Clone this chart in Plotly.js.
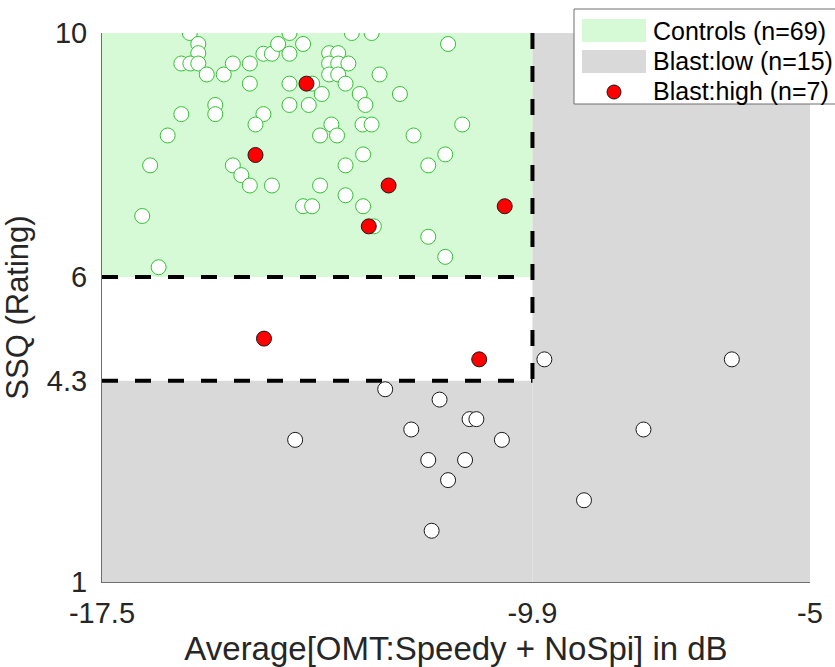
<!DOCTYPE html>
<html>
<head>
<meta charset="utf-8">
<script src="https://cdn.plot.ly/plotly-3.0.1.min.js"></script>
<style>
html, body { margin: 0; padding: 0; background: #fff; }
#chart { width: 835px; height: 667px; }
</style>
</head>
<body>
<div id="chart"></div>
<script>
// ---- data ----
const controlsX = [-15.95, -15.80, -15.80, -16.10, -15.94, -15.80, -15.65, -15.35, -15.19, -14.89,
  -14.89, -14.65, -14.50, -14.39, -14.19, -14.19, -13.95, -14.19, -13.79, -14.19,
  -13.85, -13.62, -15.50, -15.50, -16.10, -14.65, -14.79, -16.34, -13.09, -12.74,
  -11.39, -13.49, -13.33, -13.49, -13.33, -13.15, -13.49, -13.33, -13.20, -12.60,
  -12.95, -12.85, -12.24, -13.45, -13.65, -13.35, -12.90, -12.74, -12.00, -11.14,
  -12.89, -11.44, -16.65, -15.19, -15.04, -14.89, -14.50, -13.95, -13.79, -16.79,
  -16.50, -13.20, -11.74, -13.65, -13.20, -12.89, -12.70, -11.74, -11.44];
const controlsY = [10.00, 9.82, 9.67, 9.50, 9.50, 9.50, 9.32, 9.32, 9.50, 9.50,
  9.17, 9.66, 9.66, 9.82, 10.00, 9.66, 9.82, 9.17, 9.17, 8.82,
  8.82, 9.00, 8.82, 8.67, 8.67, 8.67, 8.50, 8.32, 10.00, 10.00,
  9.82, 9.67, 9.67, 9.50, 9.50, 9.50, 9.32, 9.32, 9.17, 9.32,
  9.00, 8.82, 9.00, 8.50, 8.32, 8.32, 8.50, 8.50, 8.32, 8.50,
  8.01, 8.01, 7.83, 7.83, 7.67, 7.50, 7.50, 7.16, 7.16, 7.00,
  6.16, 7.83, 7.83, 7.50, 7.34, 7.16, 6.83, 6.66, 6.33];

const lowX = [-9.69, -12.50, -11.54, -11.01, -10.89, -12.04, -10.44, -14.09, -11.74, -11.09,
  -11.39, -11.68, -6.38, -7.94, -8.99];
const lowY = [4.65, 4.16, 3.99, 3.67, 3.67, 3.50, 3.33, 3.33, 3.00, 3.00,
  2.67, 1.84, 4.65, 3.50, 2.34];

const highX = [-13.89, -14.79, -12.44, -10.39, -12.79, -14.64, -10.84];
const highY = [9.17, 8.00, 7.50, 7.16, 6.83, 4.99, 4.65];

const xThreshold = -9.9;
const yUpper = 6;
const yLower = 4.3;
const xRange = [-17.5, -5];
const yRange = [1, 10];

const xTickVals = [-17.5, -9.9, -5];
const xTickText = ['-17.5', '-9.9', '-5'];
const yTickVals = [1, 4.3, 6, 10];
const yTickText = ['1', '4.3', '6', '10'];

const legendLabels = ['Controls (n=69)', 'Blast:low (n=15)', 'Blast:high (n=7)'];

// ---- styles ----
const GREEN_FILL = '#d5fad5';
const GRAY_FILL = '#d9d9d9';
const GREEN_LINE = '#2fc42f';
const FONT = 'Liberation Sans, Arial, Helvetica, sans-serif';
const TXT = '#262626';

const M = {l: 102, r: 25, t: 33, b: 85};
const W = 835, H = 667;
const PW = W - M.l - M.r, PH = H - M.t - M.b;
const px = x => (x - M.l) / PW;
const py = y => (H - M.b - y) / PH;

const traces = [
  {
    x: controlsX, y: controlsY, type: 'scatter', mode: 'markers', name: legendLabels[0],
    marker: {size: 15, color: '#ffffff', line: {color: GREEN_LINE, width: 1}},
    showlegend: false, hoverinfo: 'x+y'
  },
  {
    x: lowX, y: lowY, type: 'scatter', mode: 'markers', name: legendLabels[1],
    marker: {size: 15, color: '#ffffff', line: {color: '#1a1a1a', width: 1}},
    showlegend: false, hoverinfo: 'x+y'
  },
  {
    x: highX, y: highY, type: 'scatter', mode: 'markers', name: legendLabels[2],
    marker: {size: 15, color: '#ff0000', line: {color: '#1a1a1a', width: 1}},
    showlegend: false, hoverinfo: 'x+y'
  }
];

const dash = {color: '#000000', width: 4, dash: '16px,17px'};
const shapes = [
  // regions
  {type: 'rect', xref: 'x', yref: 'y', x0: xRange[0], x1: xThreshold, y0: yUpper, y1: yRange[1],
   fillcolor: GREEN_FILL, line: {width: 0}, layer: 'below'},
  {type: 'rect', xref: 'x', yref: 'y', x0: xThreshold, x1: xRange[1], y0: yRange[0], y1: yRange[1],
   fillcolor: GRAY_FILL, line: {width: 0}, layer: 'below'},
  {type: 'rect', xref: 'x', yref: 'y', x0: xRange[0], x1: xThreshold, y0: yRange[0], y1: yLower,
   fillcolor: GRAY_FILL, line: {width: 0}, layer: 'below'},
  // dashed boundaries
  {type: 'line', xref: 'x', yref: 'y', x0: xRange[0], x1: xThreshold, y0: yUpper, y1: yUpper, line: dash, layer: 'below'},
  {type: 'line', xref: 'x', yref: 'y', x0: xRange[0], x1: xThreshold, y0: yLower, y1: yLower, line: dash, layer: 'below'},
  {type: 'line', xref: 'x', yref: 'y', x0: xThreshold, x1: xThreshold, y0: yRange[1], y1: yLower, line: dash, layer: 'below'},
  // legend box
  {type: 'rect', xref: 'paper', yref: 'paper', x0: px(574), x1: px(850), y0: py(104), y1: py(9),
   fillcolor: '#ffffff', line: {color: '#6e6e6e', width: 1}, layer: 'above'},
  {type: 'rect', xref: 'paper', yref: 'paper', x0: px(582), x1: px(646), y0: py(42), y1: py(19),
   fillcolor: GREEN_FILL, line: {width: 0}, layer: 'above'},
  {type: 'rect', xref: 'paper', yref: 'paper', x0: px(582), x1: px(646), y0: py(73), y1: py(50),
   fillcolor: GRAY_FILL, line: {width: 0}, layer: 'above'},
  {type: 'circle', xref: 'paper', yref: 'paper', x0: px(607), x1: px(621), y0: py(99), y1: py(85),
   fillcolor: '#ff0000', line: {color: '#1a1a1a', width: 1}, layer: 'above'}
];

const annotations = legendLabels.map((t, i) => ({
  text: t, xref: 'paper', yref: 'paper', x: px(651), y: py(31 + i * 30),
  xanchor: 'left', yanchor: 'middle', showarrow: false,
  font: {family: FONT, size: 25, color: '#000000'}
}));

const layout = {
  width: W, height: H,
  margin: M,
  paper_bgcolor: '#ffffff', plot_bgcolor: '#ffffff',
  showlegend: false,
  font: {family: FONT, color: TXT},
  xaxis: {
    range: xRange, tickmode: 'array', tickvals: xTickVals, ticktext: xTickText,
    showgrid: false, zeroline: false, showline: true, linecolor: '#6e6e6e', linewidth: 1,
    ticks: '', ticklabelstandoff: 5,
    tickfont: {family: FONT, size: 29, color: TXT},
    title: {text: 'Average[OMT:Speedy + NoSpi] in dB', font: {family: FONT, size: 33, color: TXT}, standoff: 10}
  },
  yaxis: {
    range: yRange, tickmode: 'array', tickvals: yTickVals, ticktext: yTickText,
    showgrid: false, zeroline: false, showline: true, linecolor: '#6e6e6e', linewidth: 1,
    ticks: '', ticklabelstandoff: 8,
    tickfont: {family: FONT, size: 29, color: TXT},
    title: {text: 'SSQ (Rating)', font: {family: FONT, size: 31, color: TXT}, standoff: 10}
  },
  shapes: shapes,
  annotations: annotations
};

Plotly.newPlot('chart', traces, layout, {displayModeBar: false, staticPlot: true});
</script>
</body>
</html>
